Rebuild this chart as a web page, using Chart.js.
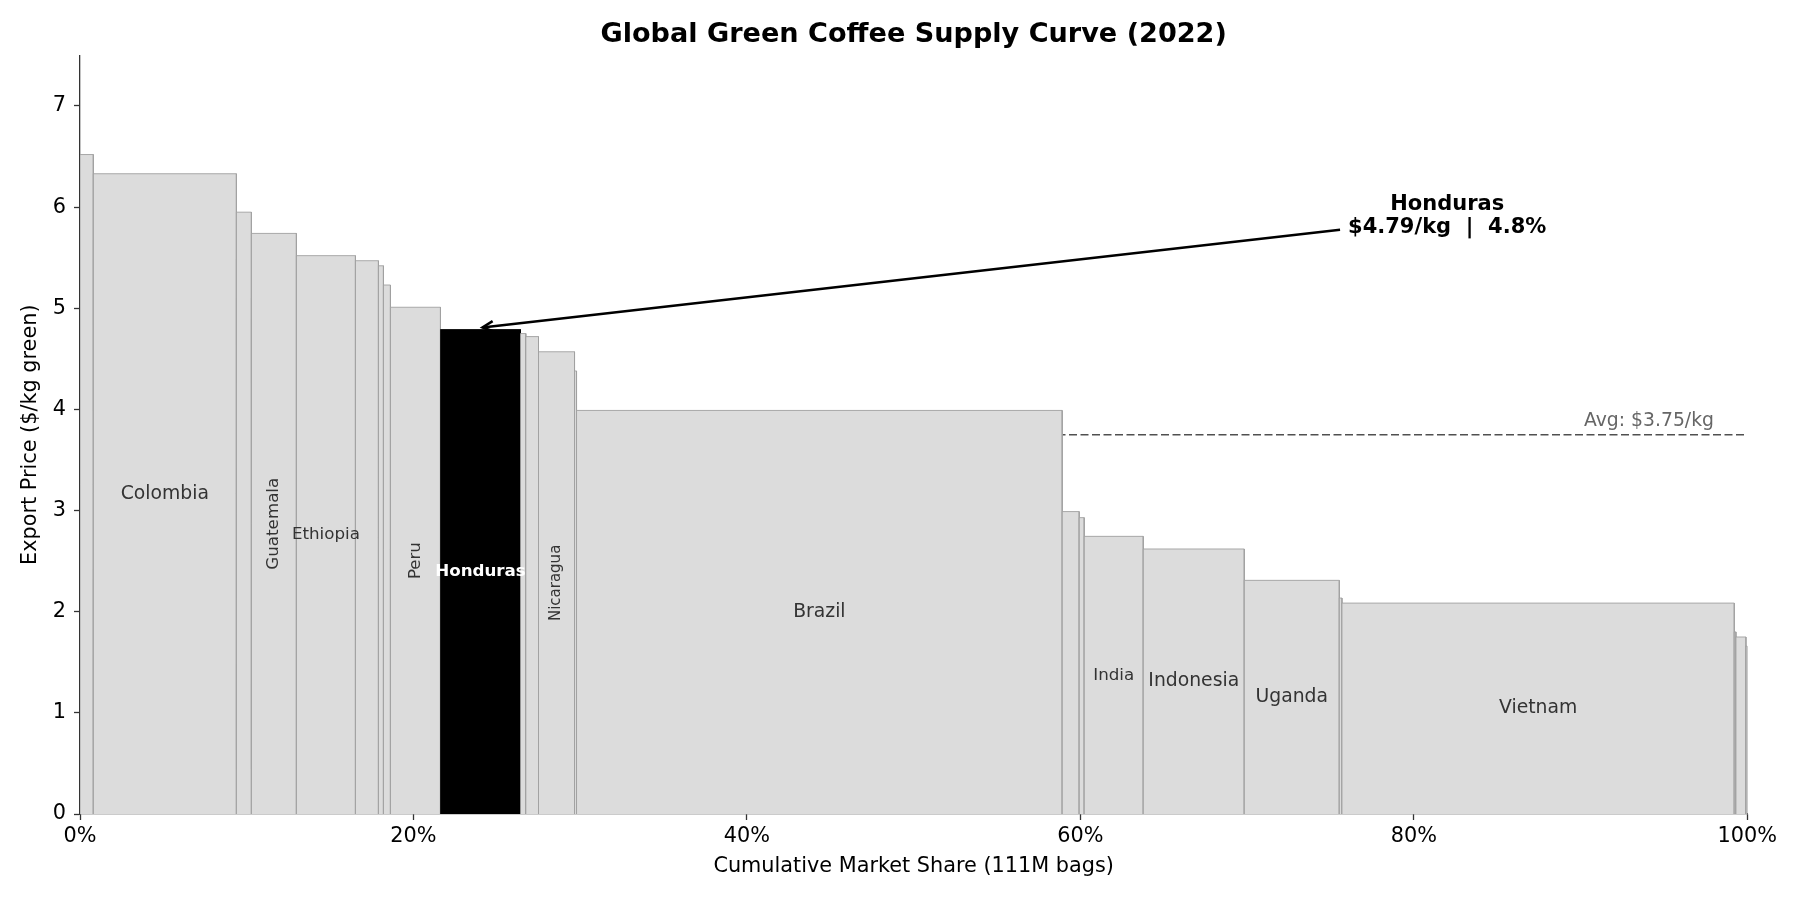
<!DOCTYPE html>
<html>
<head>
<meta charset="utf-8">
<script src="https://cdn.jsdelivr.net/npm/chart.js@4/dist/chart.umd.min.js"></script>
<style>
  html, body { margin: 0; padding: 0; background: #ffffff; }
  #wrap { width: 1800px; height: 900px; }
</style>
</head>
<body>
<div id="wrap"><canvas id="c" width="1800" height="900"></canvas></div>
<script>
// ---- data ----
const countries = ["Minor A", "Colombia", "Minor B", "Guatemala", "Ethiopia", "Minor C", "Minor D", "Minor E",
  "Peru", "Honduras", "Minor F", "Minor G", "Nicaragua", "Minor H", "Brazil", "Minor I", "Minor J",
  "India", "Indonesia", "Uganda", "Minor K", "Vietnam", "Minor L", "Minor M", "Minor N"];
const sharePct = [0.80, 8.58, 0.90, 2.70, 3.54, 1.38, 0.30, 0.42, 3.00, 4.80, 0.32, 0.76, 2.16, 0.12,
  29.13, 1.02, 0.30, 3.54, 6.06, 5.70, 0.16, 23.53, 0.10, 0.60, 0.08];
const pricePerKg = [6.52, 6.33, 5.95, 5.74, 5.52, 5.47, 5.42, 5.23, 5.01, 4.79, 4.75, 4.72, 4.57, 4.38,
  3.99, 2.99, 2.93, 2.745, 2.62, 2.31, 2.135, 2.085, 1.80, 1.75, 1.66];
const labelledCountries = ["Colombia", "Guatemala", "Ethiopia", "Peru", "Honduras", "Nicaragua",
  "Brazil", "India", "Indonesia", "Uganda", "Vietnam"];
const highlight = "Honduras";
const avgPrice = 3.75;
const xTicks = [0, 20, 40, 60, 80, 100];
const yTicks = [0, 1, 2, 3, 4, 5, 6, 7];
const chartTitle = "Global Green Coffee Supply Curve (2022)";

// ---- styles for labels (presentation only) ----
const FONT = "'DejaVu Sans', 'Liberation Sans', sans-serif";
const labelStyle = {
  "Colombia": {size: 18.8, rot: false},
  "Guatemala": {size: 16.7, rot: true},
  "Ethiopia": {size: 16.7, rot: false},
  "Peru": {size: 16.5, rot: true},
  "Honduras": {size: 16.7, rot: false, bold: true, color: "#ffffff"},
  "Nicaragua": {size: 15, rot: true},
  "Brazil": {size: 18.8, rot: false},
  "India": {size: 16.7, rot: false},
  "Indonesia": {size: 18.8, rot: false},
  "Uganda": {size: 18.8, rot: false},
  "Vietnam": {size: 18.8, rot: false}
};

// cumulative positions
const starts = [];
let acc = 0;
for (let i = 0; i < sharePct.length; i++) { starts.push(acc); acc += sharePct[i]; }

const datasets = [];
// average line (behind bars)
datasets.push({
  label: "avg",
  data: [{x: 0, y: avgPrice}, {x: 100, y: avgPrice}],
  borderColor: "#505050",
  borderWidth: 1.6,
  borderDash: [8, 3.5],
  pointRadius: 0,
  fill: false,
  order: 1000
});
countries.forEach((name, i) => {
  const x0 = starts[i], x1 = starts[i] + sharePct[i], h = pricePerKg[i];
  const hl = name === highlight;
  datasets.push({
    label: name,
    data: [{x: x0, y: 0}, {x: x0, y: h}, {x: x1, y: h}, {x: x1, y: 0}],
    borderColor: hl ? "#000000" : "#a0a0a0",
    backgroundColor: hl ? "#000000" : "#dcdcdc",
    borderWidth: hl ? 0.8 : 0.9,
    pointRadius: 0,
    tension: 0,
    fill: "origin",
    order: 500 - i
  });
});

const overlay = {
  id: "overlay",
  afterDraw(chart) {
    const ctx = chart.ctx;
    const area = chart.chartArea;
    ctx.save();
    ctx.font = "bold 27.1px " + FONT;
    ctx.fillStyle = "#000000";
    ctx.textAlign = "center";
    ctx.textBaseline = "middle";
    ctx.fillText(chartTitle, (area.left + area.right) / 2, 35);
    ctx.restore();
  },
  afterDatasetsDraw(chart) {
    const ctx = chart.ctx;
    const xs = chart.scales.x, ys = chart.scales.y;
    // bar labels
    countries.forEach((name, i) => {
      if (!labelledCountries.includes(name)) return;
      const st = labelStyle[name];
      const cx = xs.getPixelForValue(starts[i] + sharePct[i] / 2);
      const cy = ys.getPixelForValue(pricePerKg[i] / 2);
      ctx.save();
      ctx.font = (st.bold ? "bold " : "") + st.size + "px " + FONT;
      ctx.fillStyle = st.color || "#333333";
      ctx.textAlign = "center";
      ctx.textBaseline = "middle";
      ctx.translate(cx, cy);
      if (st.rot) ctx.rotate(-Math.PI / 2);
      ctx.fillText(name, 0, 0);
      ctx.restore();
    });
    // average label
    const ya = ys.getPixelForValue(avgPrice);
    ctx.save();
    ctx.font = "18.8px " + FONT;
    ctx.fillStyle = "#666666";
    ctx.textAlign = "right";
    ctx.textBaseline = "alphabetic";
    ctx.fillText("Avg: $" + avgPrice.toFixed(2) + "/kg", xs.getPixelForValue(98), ya - 9);
    ctx.restore();
    // annotation for highlight
    const hi = countries.indexOf(highlight);
    const tipX = xs.getPixelForValue(starts[hi] + sharePct[hi] / 2);
    const tipY = ys.getPixelForValue(pricePerKg[hi]);
    const tx = xs.getPixelForValue(82);
    const ty = ys.getPixelForValue(5.9);
    const line1 = highlight;
    const line2 = "$" + pricePerKg[hi].toFixed(2) + "/kg  |  " + sharePct[hi].toFixed(1) + "%";
    ctx.save();
    ctx.font = "bold 21px " + FONT;
    ctx.fillStyle = "#000000";
    ctx.textAlign = "center";
    ctx.textBaseline = "alphabetic";
    ctx.fillText(line1, tx, ty - 7);
    ctx.fillText(line2, tx, ty + 16);
    const w = Math.max(ctx.measureText(line1).width, ctx.measureText(line2).width);
    const leftX = tx - w / 2 - 8;
    const slope = (tipY - ty) / (tipX - tx);
    const sx = leftX, sy = ty + slope * (leftX - tx);
    ctx.strokeStyle = "#000000";
    ctx.lineWidth = 2.5;
    ctx.beginPath();
    ctx.moveTo(sx, sy);
    ctx.lineTo(tipX + 2, tipY - 2);
    ctx.stroke();
    const ang = Math.atan2(tipY - sy, tipX - sx);
    const hl = 12, hw = 0.45;
    const ex = tipX + 2, ey = tipY - 2;
    ctx.beginPath();
    ctx.moveTo(ex - hl * Math.cos(ang - hw), ey - hl * Math.sin(ang - hw));
    ctx.lineTo(ex, ey);
    ctx.lineTo(ex - hl * Math.cos(ang + hw), ey - hl * Math.sin(ang + hw));
    ctx.stroke();
    ctx.restore();
  }
};

new Chart(document.getElementById("c"), {
  type: "line",
  data: { datasets },
  options: {
    responsive: false,
    animation: false,
    devicePixelRatio: 1,
    layout: { padding: { left: 0, right: 52.7, top: 55.4, bottom: 0 } },
    plugins: {
      legend: { display: false },
      tooltip: { enabled: false },
      title: { display: false }
    },
    scales: {
      x: {
        type: "linear",
        min: 0, max: 100,
        afterBuildTicks(scale) { scale.ticks = xTicks.map(v => ({value: v})); },
        afterFit(scale) { scale.height = 86; },
        ticks: {
          callback: v => v + "%",
          color: "#000000",
          font: { family: FONT, size: 20.8 },
          padding: 4,
          maxRotation: 0,
          autoSkip: false
        },
        grid: { display: true, drawOnChartArea: false, drawTicks: true, tickLength: 6, tickColor: "#333333", tickWidth: 1.3 },
        border: { display: true, color: "#333333", width: 1.3 },
        title: {
          display: true,
          text: "Cumulative Market Share (111M bags)",
          color: "#000000",
          font: { family: FONT, size: 20.8 },
          padding: { top: 0, bottom: 21 }
        }
      },
      y: {
        type: "linear",
        min: 0, max: 7.5,
        afterBuildTicks(scale) { scale.ticks = yTicks.map(v => ({value: v})); },
        afterFit(scale) { scale.width = 80; },
        ticks: {
          color: "#000000",
          font: { family: FONT, size: 20.8 },
          padding: 8,
          autoSkip: false
        },
        grid: { display: true, drawOnChartArea: false, drawTicks: true, tickLength: 6, tickColor: "#333333", tickWidth: 1.3 },
        border: { display: true, color: "#333333", width: 1.3 },
        title: {
          display: true,
          text: "Export Price ($/kg green)",
          color: "#000000",
          font: { family: FONT, size: 20.8 },
          padding: { top: 18, bottom: 0 }
        }
      }
    }
  },
  plugins: [overlay]
});
</script>
</body>
</html>
